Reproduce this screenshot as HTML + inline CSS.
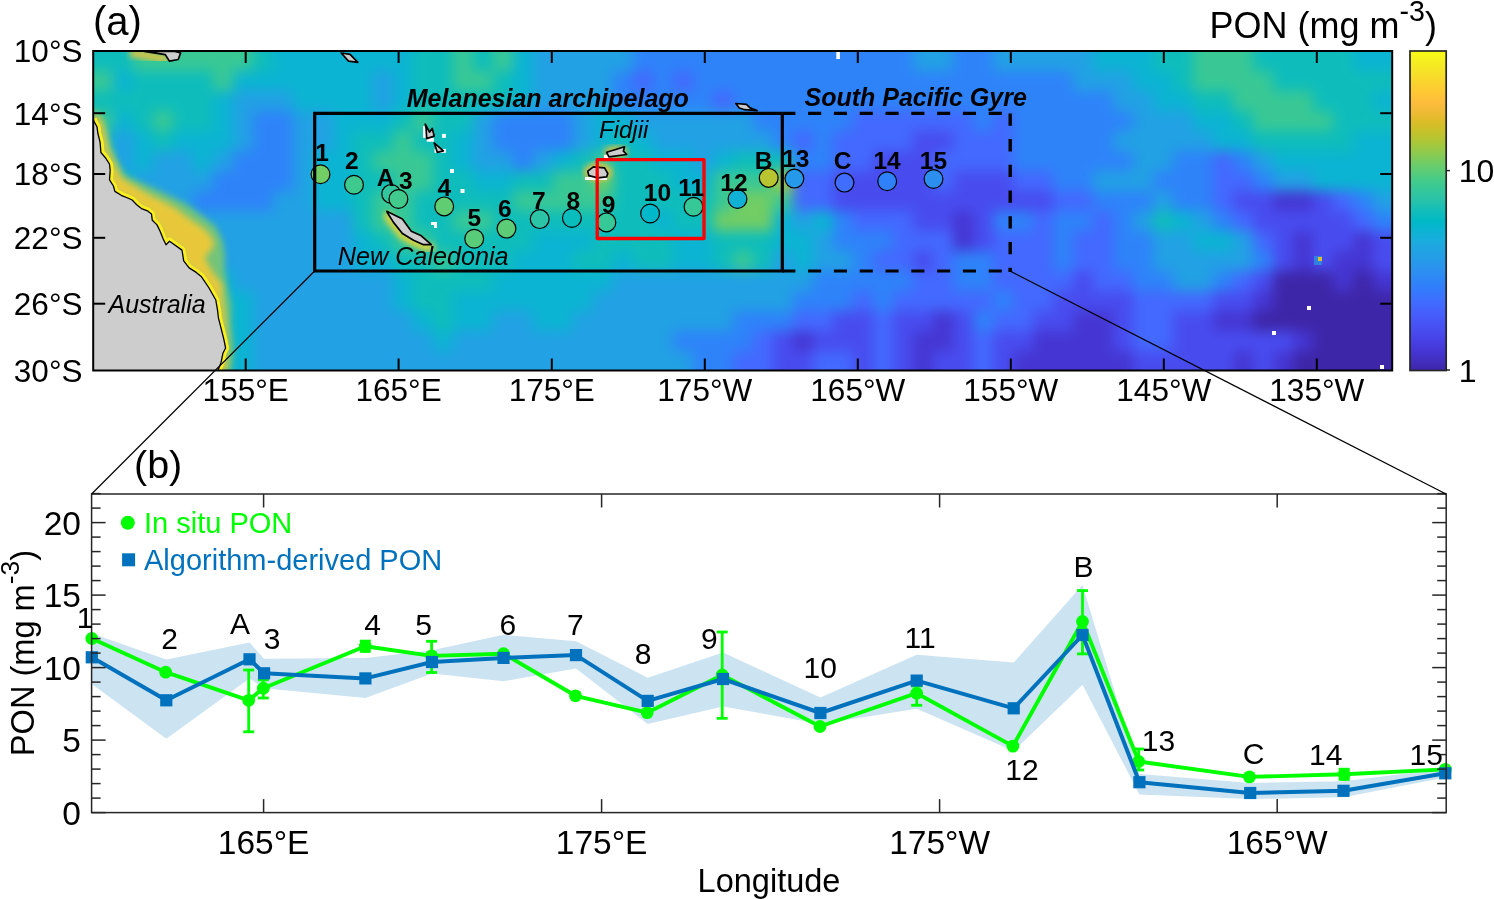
<!DOCTYPE html>
<html><head><meta charset="utf-8"><style>
html,body{margin:0;padding:0;background:#fff;width:1494px;height:899px;overflow:hidden}
svg{display:block;will-change:transform}
text{font-family:"Liberation Sans", sans-serif}
</style></head><body>
<svg width="1494" height="899" viewBox="0 0 1494 899">
<rect width="1494" height="899" fill="#fff"/>
<defs><clipPath id="mclip"><rect x="93.2" y="51.0" width="1299.0" height="319.5"/></clipPath><filter id="mblur" x="-2%" y="-10%" width="104%" height="120%" color-interpolation-filters="sRGB"><feGaussianBlur stdDeviation="6.5"/></filter><filter id="gblur" color-interpolation-filters="sRGB"><feGaussianBlur stdDeviation="3"/></filter></defs>
<g clip-path="url(#mclip)">
<g filter="url(#mblur)">
<rect x="53" y="11" width="80.5" height="20.5" fill="#0ebdbb"/>
<rect x="133" y="11" width="120.5" height="20.5" fill="#39c895"/>
<rect x="253" y="11" width="20.5" height="20.5" fill="#0ebdbb"/>
<rect x="273" y="11" width="140.5" height="20.5" fill="#0bb4d2"/>
<rect x="413" y="11" width="40.5" height="20.5" fill="#0ebdbb"/>
<rect x="453" y="11" width="20.5" height="20.5" fill="#39c895"/>
<rect x="473" y="11" width="20.5" height="20.5" fill="#0ebdbb"/>
<rect x="493" y="11" width="20.5" height="20.5" fill="#39c895"/>
<rect x="513" y="11" width="20.5" height="20.5" fill="#0bb4d2"/>
<rect x="533" y="11" width="100.5" height="20.5" fill="#22a1e4"/>
<rect x="633" y="11" width="280.5" height="20.5" fill="#2e83f9"/>
<rect x="913" y="11" width="40.5" height="20.5" fill="#22a1e4"/>
<rect x="953" y="11" width="40.5" height="20.5" fill="#2e83f9"/>
<rect x="993" y="11" width="100.5" height="20.5" fill="#22a1e4"/>
<rect x="1093" y="11" width="60.5" height="20.5" fill="#0bb4d2"/>
<rect x="1153" y="11" width="40.5" height="20.5" fill="#0ebdbb"/>
<rect x="1193" y="11" width="60.5" height="20.5" fill="#39c895"/>
<rect x="1253" y="11" width="100.5" height="20.5" fill="#0ebdbb"/>
<rect x="1353" y="11" width="80.5" height="20.5" fill="#0bb4d2"/>
<rect x="53" y="31" width="80.5" height="20.5" fill="#0ebdbb"/>
<rect x="133" y="31" width="120.5" height="20.5" fill="#39c895"/>
<rect x="253" y="31" width="20.5" height="20.5" fill="#0ebdbb"/>
<rect x="273" y="31" width="140.5" height="20.5" fill="#0bb4d2"/>
<rect x="413" y="31" width="40.5" height="20.5" fill="#0ebdbb"/>
<rect x="453" y="31" width="20.5" height="20.5" fill="#39c895"/>
<rect x="473" y="31" width="20.5" height="20.5" fill="#0ebdbb"/>
<rect x="493" y="31" width="20.5" height="20.5" fill="#39c895"/>
<rect x="513" y="31" width="20.5" height="20.5" fill="#0bb4d2"/>
<rect x="533" y="31" width="100.5" height="20.5" fill="#22a1e4"/>
<rect x="633" y="31" width="280.5" height="20.5" fill="#2e83f9"/>
<rect x="913" y="31" width="40.5" height="20.5" fill="#22a1e4"/>
<rect x="953" y="31" width="40.5" height="20.5" fill="#2e83f9"/>
<rect x="993" y="31" width="100.5" height="20.5" fill="#22a1e4"/>
<rect x="1093" y="31" width="60.5" height="20.5" fill="#0bb4d2"/>
<rect x="1153" y="31" width="40.5" height="20.5" fill="#0ebdbb"/>
<rect x="1193" y="31" width="60.5" height="20.5" fill="#39c895"/>
<rect x="1253" y="31" width="100.5" height="20.5" fill="#0ebdbb"/>
<rect x="1353" y="31" width="80.5" height="20.5" fill="#0bb4d2"/>
<rect x="53" y="51" width="80.5" height="20.5" fill="#0ebdbb"/>
<rect x="133" y="51" width="120.5" height="20.5" fill="#39c895"/>
<rect x="253" y="51" width="20.5" height="20.5" fill="#0ebdbb"/>
<rect x="273" y="51" width="140.5" height="20.5" fill="#0bb4d2"/>
<rect x="413" y="51" width="40.5" height="20.5" fill="#0ebdbb"/>
<rect x="453" y="51" width="20.5" height="20.5" fill="#39c895"/>
<rect x="473" y="51" width="20.5" height="20.5" fill="#0ebdbb"/>
<rect x="493" y="51" width="20.5" height="20.5" fill="#39c895"/>
<rect x="513" y="51" width="20.5" height="20.5" fill="#0bb4d2"/>
<rect x="533" y="51" width="100.5" height="20.5" fill="#22a1e4"/>
<rect x="633" y="51" width="280.5" height="20.5" fill="#2e83f9"/>
<rect x="913" y="51" width="40.5" height="20.5" fill="#22a1e4"/>
<rect x="953" y="51" width="40.5" height="20.5" fill="#2e83f9"/>
<rect x="993" y="51" width="100.5" height="20.5" fill="#22a1e4"/>
<rect x="1093" y="51" width="60.5" height="20.5" fill="#0bb4d2"/>
<rect x="1153" y="51" width="40.5" height="20.5" fill="#0ebdbb"/>
<rect x="1193" y="51" width="60.5" height="20.5" fill="#39c895"/>
<rect x="1253" y="51" width="100.5" height="20.5" fill="#0ebdbb"/>
<rect x="1353" y="51" width="80.5" height="20.5" fill="#0bb4d2"/>
<rect x="53" y="71" width="60.5" height="20.5" fill="#39c895"/>
<rect x="113" y="71" width="20.5" height="20.5" fill="#0bb4d2"/>
<rect x="133" y="71" width="80.5" height="20.5" fill="#0ebdbb"/>
<rect x="213" y="71" width="20.5" height="20.5" fill="#39c895"/>
<rect x="233" y="71" width="140.5" height="20.5" fill="#0bb4d2"/>
<rect x="373" y="71" width="20.5" height="20.5" fill="#22a1e4"/>
<rect x="393" y="71" width="20.5" height="20.5" fill="#0bb4d2"/>
<rect x="413" y="71" width="40.5" height="20.5" fill="#0ebdbb"/>
<rect x="453" y="71" width="40.5" height="20.5" fill="#39c895"/>
<rect x="493" y="71" width="20.5" height="20.5" fill="#0ebdbb"/>
<rect x="513" y="71" width="20.5" height="20.5" fill="#0bb4d2"/>
<rect x="533" y="71" width="80.5" height="20.5" fill="#22a1e4"/>
<rect x="613" y="71" width="20.5" height="20.5" fill="#2e83f9"/>
<rect x="633" y="71" width="20.5" height="20.5" fill="#4369fe"/>
<rect x="653" y="71" width="20.5" height="20.5" fill="#2e83f9"/>
<rect x="673" y="71" width="20.5" height="20.5" fill="#4369fe"/>
<rect x="693" y="71" width="380.5" height="20.5" fill="#2e83f9"/>
<rect x="1073" y="71" width="60.5" height="20.5" fill="#22a1e4"/>
<rect x="1133" y="71" width="40.5" height="20.5" fill="#0bb4d2"/>
<rect x="1173" y="71" width="20.5" height="20.5" fill="#0ebdbb"/>
<rect x="1193" y="71" width="80.5" height="20.5" fill="#39c895"/>
<rect x="1273" y="71" width="160.5" height="20.5" fill="#0ebdbb"/>
<rect x="53" y="91" width="160.5" height="20.5" fill="#0ebdbb"/>
<rect x="213" y="91" width="20.5" height="20.5" fill="#0bb4d2"/>
<rect x="233" y="91" width="60.5" height="20.5" fill="#22a1e4"/>
<rect x="293" y="91" width="80.5" height="20.5" fill="#0bb4d2"/>
<rect x="373" y="91" width="20.5" height="20.5" fill="#22a1e4"/>
<rect x="393" y="91" width="20.5" height="20.5" fill="#0bb4d2"/>
<rect x="413" y="91" width="100.5" height="20.5" fill="#0ebdbb"/>
<rect x="513" y="91" width="20.5" height="20.5" fill="#0bb4d2"/>
<rect x="533" y="91" width="80.5" height="20.5" fill="#22a1e4"/>
<rect x="613" y="91" width="100.5" height="20.5" fill="#2e83f9"/>
<rect x="713" y="91" width="20.5" height="20.5" fill="#4369fe"/>
<rect x="733" y="91" width="380.5" height="20.5" fill="#2e83f9"/>
<rect x="1113" y="91" width="40.5" height="20.5" fill="#22a1e4"/>
<rect x="1153" y="91" width="40.5" height="20.5" fill="#0bb4d2"/>
<rect x="1193" y="91" width="40.5" height="20.5" fill="#0ebdbb"/>
<rect x="1233" y="91" width="80.5" height="20.5" fill="#39c895"/>
<rect x="1313" y="91" width="60.5" height="20.5" fill="#0ebdbb"/>
<rect x="1373" y="91" width="60.5" height="20.5" fill="#0bb4d2"/>
<rect x="53" y="111" width="60.5" height="20.5" fill="#39c895"/>
<rect x="113" y="111" width="20.5" height="20.5" fill="#0bb4d2"/>
<rect x="133" y="111" width="20.5" height="20.5" fill="#0ebdbb"/>
<rect x="153" y="111" width="20.5" height="20.5" fill="#39c895"/>
<rect x="173" y="111" width="40.5" height="20.5" fill="#0ebdbb"/>
<rect x="213" y="111" width="20.5" height="20.5" fill="#0bb4d2"/>
<rect x="233" y="111" width="20.5" height="20.5" fill="#22a1e4"/>
<rect x="253" y="111" width="40.5" height="20.5" fill="#2e83f9"/>
<rect x="293" y="111" width="40.5" height="20.5" fill="#22a1e4"/>
<rect x="333" y="111" width="60.5" height="20.5" fill="#0bb4d2"/>
<rect x="393" y="111" width="20.5" height="20.5" fill="#0ebdbb"/>
<rect x="413" y="111" width="20.5" height="20.5" fill="#39c895"/>
<rect x="433" y="111" width="40.5" height="20.5" fill="#0ebdbb"/>
<rect x="473" y="111" width="20.5" height="20.5" fill="#22a1e4"/>
<rect x="493" y="111" width="80.5" height="20.5" fill="#2e83f9"/>
<rect x="573" y="111" width="20.5" height="20.5" fill="#22a1e4"/>
<rect x="593" y="111" width="40.5" height="20.5" fill="#0bb4d2"/>
<rect x="633" y="111" width="120.5" height="20.5" fill="#22a1e4"/>
<rect x="753" y="111" width="100.5" height="20.5" fill="#2e83f9"/>
<rect x="853" y="111" width="120.5" height="20.5" fill="#4369fe"/>
<rect x="973" y="111" width="20.5" height="20.5" fill="#2e83f9"/>
<rect x="993" y="111" width="20.5" height="20.5" fill="#4369fe"/>
<rect x="1013" y="111" width="120.5" height="20.5" fill="#2e83f9"/>
<rect x="1133" y="111" width="60.5" height="20.5" fill="#22a1e4"/>
<rect x="1193" y="111" width="40.5" height="20.5" fill="#0bb4d2"/>
<rect x="1233" y="111" width="20.5" height="20.5" fill="#0ebdbb"/>
<rect x="1253" y="111" width="80.5" height="20.5" fill="#39c895"/>
<rect x="1333" y="111" width="100.5" height="20.5" fill="#0ebdbb"/>
<rect x="53" y="131" width="60.5" height="20.5" fill="#0bb4d2"/>
<rect x="113" y="131" width="20.5" height="20.5" fill="#22a1e4"/>
<rect x="133" y="131" width="20.5" height="20.5" fill="#0bb4d2"/>
<rect x="153" y="131" width="20.5" height="20.5" fill="#0ebdbb"/>
<rect x="173" y="131" width="60.5" height="20.5" fill="#0bb4d2"/>
<rect x="233" y="131" width="20.5" height="20.5" fill="#22a1e4"/>
<rect x="253" y="131" width="40.5" height="20.5" fill="#2e83f9"/>
<rect x="293" y="131" width="40.5" height="20.5" fill="#22a1e4"/>
<rect x="333" y="131" width="20.5" height="20.5" fill="#0bb4d2"/>
<rect x="353" y="131" width="40.5" height="20.5" fill="#0ebdbb"/>
<rect x="393" y="131" width="20.5" height="20.5" fill="#39c895"/>
<rect x="413" y="131" width="40.5" height="20.5" fill="#0ebdbb"/>
<rect x="453" y="131" width="20.5" height="20.5" fill="#0bb4d2"/>
<rect x="473" y="131" width="20.5" height="20.5" fill="#22a1e4"/>
<rect x="493" y="131" width="80.5" height="20.5" fill="#2e83f9"/>
<rect x="573" y="131" width="20.5" height="20.5" fill="#22a1e4"/>
<rect x="593" y="131" width="20.5" height="20.5" fill="#0bb4d2"/>
<rect x="613" y="131" width="20.5" height="20.5" fill="#0ebdbb"/>
<rect x="633" y="131" width="20.5" height="20.5" fill="#0bb4d2"/>
<rect x="653" y="131" width="120.5" height="20.5" fill="#22a1e4"/>
<rect x="773" y="131" width="20.5" height="20.5" fill="#2e83f9"/>
<rect x="793" y="131" width="20.5" height="20.5" fill="#4369fe"/>
<rect x="813" y="131" width="20.5" height="20.5" fill="#2e83f9"/>
<rect x="833" y="131" width="80.5" height="20.5" fill="#4369fe"/>
<rect x="913" y="131" width="40.5" height="20.5" fill="#484cef"/>
<rect x="953" y="131" width="60.5" height="20.5" fill="#4369fe"/>
<rect x="1013" y="131" width="100.5" height="20.5" fill="#2e83f9"/>
<rect x="1113" y="131" width="100.5" height="20.5" fill="#22a1e4"/>
<rect x="1213" y="131" width="40.5" height="20.5" fill="#0bb4d2"/>
<rect x="1253" y="131" width="100.5" height="20.5" fill="#0ebdbb"/>
<rect x="1353" y="131" width="80.5" height="20.5" fill="#0bb4d2"/>
<rect x="53" y="151" width="60.5" height="20.5" fill="#0bb4d2"/>
<rect x="113" y="151" width="20.5" height="20.5" fill="#22a1e4"/>
<rect x="133" y="151" width="20.5" height="20.5" fill="#0bb4d2"/>
<rect x="153" y="151" width="40.5" height="20.5" fill="#22a1e4"/>
<rect x="193" y="151" width="20.5" height="20.5" fill="#0bb4d2"/>
<rect x="213" y="151" width="20.5" height="20.5" fill="#22a1e4"/>
<rect x="233" y="151" width="60.5" height="20.5" fill="#2e83f9"/>
<rect x="293" y="151" width="20.5" height="20.5" fill="#22a1e4"/>
<rect x="313" y="151" width="40.5" height="20.5" fill="#0bb4d2"/>
<rect x="353" y="151" width="20.5" height="20.5" fill="#0ebdbb"/>
<rect x="373" y="151" width="60.5" height="20.5" fill="#39c895"/>
<rect x="433" y="151" width="20.5" height="20.5" fill="#0ebdbb"/>
<rect x="453" y="151" width="20.5" height="20.5" fill="#0bb4d2"/>
<rect x="473" y="151" width="40.5" height="20.5" fill="#22a1e4"/>
<rect x="513" y="151" width="20.5" height="20.5" fill="#2e83f9"/>
<rect x="533" y="151" width="20.5" height="20.5" fill="#22a1e4"/>
<rect x="553" y="151" width="20.5" height="20.5" fill="#0bb4d2"/>
<rect x="573" y="151" width="20.5" height="20.5" fill="#0ebdbb"/>
<rect x="593" y="151" width="20.5" height="20.5" fill="#39c895"/>
<rect x="613" y="151" width="40.5" height="20.5" fill="#0ebdbb"/>
<rect x="653" y="151" width="40.5" height="20.5" fill="#0bb4d2"/>
<rect x="693" y="151" width="20.5" height="20.5" fill="#22a1e4"/>
<rect x="713" y="151" width="20.5" height="20.5" fill="#0bb4d2"/>
<rect x="733" y="151" width="60.5" height="20.5" fill="#0ebdbb"/>
<rect x="793" y="151" width="40.5" height="20.5" fill="#2e83f9"/>
<rect x="833" y="151" width="40.5" height="20.5" fill="#4369fe"/>
<rect x="873" y="151" width="60.5" height="20.5" fill="#484cef"/>
<rect x="933" y="151" width="80.5" height="20.5" fill="#4369fe"/>
<rect x="1013" y="151" width="120.5" height="20.5" fill="#2e83f9"/>
<rect x="1133" y="151" width="40.5" height="20.5" fill="#22a1e4"/>
<rect x="1173" y="151" width="40.5" height="20.5" fill="#2e83f9"/>
<rect x="1213" y="151" width="20.5" height="20.5" fill="#4369fe"/>
<rect x="1233" y="151" width="20.5" height="20.5" fill="#2e83f9"/>
<rect x="1253" y="151" width="20.5" height="20.5" fill="#22a1e4"/>
<rect x="1273" y="151" width="160.5" height="20.5" fill="#0bb4d2"/>
<rect x="53" y="171" width="80.5" height="20.5" fill="#0bb4d2"/>
<rect x="133" y="171" width="80.5" height="20.5" fill="#22a1e4"/>
<rect x="213" y="171" width="80.5" height="20.5" fill="#2e83f9"/>
<rect x="293" y="171" width="20.5" height="20.5" fill="#22a1e4"/>
<rect x="313" y="171" width="40.5" height="20.5" fill="#0bb4d2"/>
<rect x="353" y="171" width="40.5" height="20.5" fill="#0ebdbb"/>
<rect x="393" y="171" width="40.5" height="20.5" fill="#39c895"/>
<rect x="433" y="171" width="40.5" height="20.5" fill="#0ebdbb"/>
<rect x="473" y="171" width="40.5" height="20.5" fill="#0bb4d2"/>
<rect x="513" y="171" width="40.5" height="20.5" fill="#0ebdbb"/>
<rect x="553" y="171" width="40.5" height="20.5" fill="#39c895"/>
<rect x="593" y="171" width="20.5" height="20.5" fill="#71cd64"/>
<rect x="613" y="171" width="60.5" height="20.5" fill="#0ebdbb"/>
<rect x="673" y="171" width="40.5" height="20.5" fill="#0bb4d2"/>
<rect x="713" y="171" width="60.5" height="20.5" fill="#39c895"/>
<rect x="773" y="171" width="20.5" height="20.5" fill="#b0c636"/>
<rect x="793" y="171" width="40.5" height="20.5" fill="#4369fe"/>
<rect x="833" y="171" width="100.5" height="20.5" fill="#484cef"/>
<rect x="933" y="171" width="20.5" height="20.5" fill="#4369fe"/>
<rect x="953" y="171" width="60.5" height="20.5" fill="#484cef"/>
<rect x="1013" y="171" width="40.5" height="20.5" fill="#4369fe"/>
<rect x="1053" y="171" width="40.5" height="20.5" fill="#2e83f9"/>
<rect x="1093" y="171" width="60.5" height="20.5" fill="#22a1e4"/>
<rect x="1153" y="171" width="60.5" height="20.5" fill="#2e83f9"/>
<rect x="1213" y="171" width="40.5" height="20.5" fill="#4369fe"/>
<rect x="1253" y="171" width="20.5" height="20.5" fill="#2e83f9"/>
<rect x="1273" y="171" width="40.5" height="20.5" fill="#22a1e4"/>
<rect x="1313" y="171" width="120.5" height="20.5" fill="#0bb4d2"/>
<rect x="53" y="191" width="100.5" height="20.5" fill="#0bb4d2"/>
<rect x="153" y="191" width="40.5" height="20.5" fill="#22a1e4"/>
<rect x="193" y="191" width="80.5" height="20.5" fill="#2e83f9"/>
<rect x="273" y="191" width="40.5" height="20.5" fill="#22a1e4"/>
<rect x="313" y="191" width="40.5" height="20.5" fill="#0bb4d2"/>
<rect x="353" y="191" width="20.5" height="20.5" fill="#0ebdbb"/>
<rect x="373" y="191" width="40.5" height="20.5" fill="#39c895"/>
<rect x="413" y="191" width="100.5" height="20.5" fill="#0ebdbb"/>
<rect x="513" y="191" width="100.5" height="20.5" fill="#39c895"/>
<rect x="613" y="191" width="100.5" height="20.5" fill="#0ebdbb"/>
<rect x="713" y="191" width="20.5" height="20.5" fill="#39c895"/>
<rect x="733" y="191" width="40.5" height="20.5" fill="#71cd64"/>
<rect x="773" y="191" width="20.5" height="20.5" fill="#39c895"/>
<rect x="793" y="191" width="40.5" height="20.5" fill="#4369fe"/>
<rect x="833" y="191" width="220.5" height="20.5" fill="#484cef"/>
<rect x="1053" y="191" width="40.5" height="20.5" fill="#4369fe"/>
<rect x="1093" y="191" width="60.5" height="20.5" fill="#2e83f9"/>
<rect x="1153" y="191" width="20.5" height="20.5" fill="#22a1e4"/>
<rect x="1173" y="191" width="40.5" height="20.5" fill="#2e83f9"/>
<rect x="1213" y="191" width="20.5" height="20.5" fill="#4369fe"/>
<rect x="1233" y="191" width="40.5" height="20.5" fill="#484cef"/>
<rect x="1273" y="191" width="40.5" height="20.5" fill="#4536d3"/>
<rect x="1313" y="191" width="20.5" height="20.5" fill="#484cef"/>
<rect x="1333" y="191" width="20.5" height="20.5" fill="#4369fe"/>
<rect x="1353" y="191" width="20.5" height="20.5" fill="#2e83f9"/>
<rect x="1373" y="191" width="60.5" height="20.5" fill="#22a1e4"/>
<rect x="53" y="211" width="100.5" height="20.5" fill="#0bb4d2"/>
<rect x="153" y="211" width="20.5" height="20.5" fill="#0ebdbb"/>
<rect x="173" y="211" width="20.5" height="20.5" fill="#0bb4d2"/>
<rect x="193" y="211" width="160.5" height="20.5" fill="#22a1e4"/>
<rect x="353" y="211" width="20.5" height="20.5" fill="#0ebdbb"/>
<rect x="373" y="211" width="40.5" height="20.5" fill="#39c895"/>
<rect x="413" y="211" width="40.5" height="20.5" fill="#0ebdbb"/>
<rect x="453" y="211" width="40.5" height="20.5" fill="#39c895"/>
<rect x="493" y="211" width="160.5" height="20.5" fill="#0ebdbb"/>
<rect x="653" y="211" width="20.5" height="20.5" fill="#0bb4d2"/>
<rect x="673" y="211" width="40.5" height="20.5" fill="#0ebdbb"/>
<rect x="713" y="211" width="60.5" height="20.5" fill="#71cd64"/>
<rect x="773" y="211" width="20.5" height="20.5" fill="#0bb4d2"/>
<rect x="793" y="211" width="20.5" height="20.5" fill="#22a1e4"/>
<rect x="813" y="211" width="20.5" height="20.5" fill="#0bb4d2"/>
<rect x="833" y="211" width="20.5" height="20.5" fill="#2e83f9"/>
<rect x="853" y="211" width="60.5" height="20.5" fill="#4369fe"/>
<rect x="913" y="211" width="40.5" height="20.5" fill="#484cef"/>
<rect x="953" y="211" width="20.5" height="20.5" fill="#4536d3"/>
<rect x="973" y="211" width="20.5" height="20.5" fill="#484cef"/>
<rect x="993" y="211" width="40.5" height="20.5" fill="#2e83f9"/>
<rect x="1033" y="211" width="20.5" height="20.5" fill="#4369fe"/>
<rect x="1053" y="211" width="40.5" height="20.5" fill="#2e83f9"/>
<rect x="1093" y="211" width="20.5" height="20.5" fill="#4369fe"/>
<rect x="1113" y="211" width="20.5" height="20.5" fill="#2e83f9"/>
<rect x="1133" y="211" width="20.5" height="20.5" fill="#22a1e4"/>
<rect x="1153" y="211" width="20.5" height="20.5" fill="#0ebdbb"/>
<rect x="1173" y="211" width="20.5" height="20.5" fill="#0bb4d2"/>
<rect x="1193" y="211" width="20.5" height="20.5" fill="#22a1e4"/>
<rect x="1213" y="211" width="20.5" height="20.5" fill="#2e83f9"/>
<rect x="1233" y="211" width="20.5" height="20.5" fill="#4369fe"/>
<rect x="1253" y="211" width="100.5" height="20.5" fill="#484cef"/>
<rect x="1353" y="211" width="20.5" height="20.5" fill="#4369fe"/>
<rect x="1373" y="211" width="60.5" height="20.5" fill="#2e83f9"/>
<rect x="53" y="231" width="160.5" height="20.5" fill="#0bb4d2"/>
<rect x="213" y="231" width="140.5" height="20.5" fill="#22a1e4"/>
<rect x="353" y="231" width="20.5" height="20.5" fill="#0bb4d2"/>
<rect x="373" y="231" width="20.5" height="20.5" fill="#0ebdbb"/>
<rect x="393" y="231" width="40.5" height="20.5" fill="#39c895"/>
<rect x="433" y="231" width="100.5" height="20.5" fill="#0ebdbb"/>
<rect x="533" y="231" width="60.5" height="20.5" fill="#0bb4d2"/>
<rect x="593" y="231" width="80.5" height="20.5" fill="#0ebdbb"/>
<rect x="673" y="231" width="40.5" height="20.5" fill="#0bb4d2"/>
<rect x="713" y="231" width="60.5" height="20.5" fill="#0ebdbb"/>
<rect x="773" y="231" width="40.5" height="20.5" fill="#0bb4d2"/>
<rect x="813" y="231" width="20.5" height="20.5" fill="#22a1e4"/>
<rect x="833" y="231" width="60.5" height="20.5" fill="#2e83f9"/>
<rect x="893" y="231" width="60.5" height="20.5" fill="#4369fe"/>
<rect x="953" y="231" width="20.5" height="20.5" fill="#4536d3"/>
<rect x="973" y="231" width="20.5" height="20.5" fill="#484cef"/>
<rect x="993" y="231" width="60.5" height="20.5" fill="#4369fe"/>
<rect x="1053" y="231" width="20.5" height="20.5" fill="#2e83f9"/>
<rect x="1073" y="231" width="40.5" height="20.5" fill="#4369fe"/>
<rect x="1113" y="231" width="40.5" height="20.5" fill="#2e83f9"/>
<rect x="1153" y="231" width="40.5" height="20.5" fill="#22a1e4"/>
<rect x="1193" y="231" width="40.5" height="20.5" fill="#0bb4d2"/>
<rect x="1233" y="231" width="20.5" height="20.5" fill="#22a1e4"/>
<rect x="1253" y="231" width="20.5" height="20.5" fill="#4369fe"/>
<rect x="1273" y="231" width="20.5" height="20.5" fill="#484cef"/>
<rect x="1293" y="231" width="20.5" height="20.5" fill="#4536d3"/>
<rect x="1313" y="231" width="40.5" height="20.5" fill="#484cef"/>
<rect x="1353" y="231" width="20.5" height="20.5" fill="#4536d3"/>
<rect x="1373" y="231" width="60.5" height="20.5" fill="#484cef"/>
<rect x="53" y="251" width="160.5" height="20.5" fill="#0bb4d2"/>
<rect x="213" y="251" width="140.5" height="20.5" fill="#22a1e4"/>
<rect x="353" y="251" width="40.5" height="20.5" fill="#0bb4d2"/>
<rect x="393" y="251" width="40.5" height="20.5" fill="#0ebdbb"/>
<rect x="433" y="251" width="20.5" height="20.5" fill="#39c895"/>
<rect x="453" y="251" width="60.5" height="20.5" fill="#0ebdbb"/>
<rect x="513" y="251" width="60.5" height="20.5" fill="#0bb4d2"/>
<rect x="573" y="251" width="40.5" height="20.5" fill="#0ebdbb"/>
<rect x="613" y="251" width="20.5" height="20.5" fill="#0bb4d2"/>
<rect x="633" y="251" width="40.5" height="20.5" fill="#0ebdbb"/>
<rect x="673" y="251" width="40.5" height="20.5" fill="#0bb4d2"/>
<rect x="713" y="251" width="20.5" height="20.5" fill="#0ebdbb"/>
<rect x="733" y="251" width="20.5" height="20.5" fill="#39c895"/>
<rect x="753" y="251" width="20.5" height="20.5" fill="#0ebdbb"/>
<rect x="773" y="251" width="20.5" height="20.5" fill="#22a1e4"/>
<rect x="793" y="251" width="20.5" height="20.5" fill="#0bb4d2"/>
<rect x="813" y="251" width="40.5" height="20.5" fill="#22a1e4"/>
<rect x="853" y="251" width="20.5" height="20.5" fill="#2e83f9"/>
<rect x="873" y="251" width="40.5" height="20.5" fill="#4369fe"/>
<rect x="913" y="251" width="20.5" height="20.5" fill="#484cef"/>
<rect x="933" y="251" width="20.5" height="20.5" fill="#4369fe"/>
<rect x="953" y="251" width="40.5" height="20.5" fill="#2e83f9"/>
<rect x="993" y="251" width="60.5" height="20.5" fill="#4369fe"/>
<rect x="1053" y="251" width="20.5" height="20.5" fill="#2e83f9"/>
<rect x="1073" y="251" width="40.5" height="20.5" fill="#4369fe"/>
<rect x="1113" y="251" width="40.5" height="20.5" fill="#2e83f9"/>
<rect x="1153" y="251" width="100.5" height="20.5" fill="#22a1e4"/>
<rect x="1253" y="251" width="20.5" height="20.5" fill="#2e83f9"/>
<rect x="1273" y="251" width="20.5" height="20.5" fill="#484cef"/>
<rect x="1293" y="251" width="20.5" height="20.5" fill="#4536d3"/>
<rect x="1313" y="251" width="20.5" height="20.5" fill="#484cef"/>
<rect x="1333" y="251" width="40.5" height="20.5" fill="#4536d3"/>
<rect x="1373" y="251" width="60.5" height="20.5" fill="#484cef"/>
<rect x="53" y="271" width="180.5" height="20.5" fill="#0bb4d2"/>
<rect x="233" y="271" width="160.5" height="20.5" fill="#22a1e4"/>
<rect x="393" y="271" width="20.5" height="20.5" fill="#0bb4d2"/>
<rect x="413" y="271" width="80.5" height="20.5" fill="#0ebdbb"/>
<rect x="493" y="271" width="120.5" height="20.5" fill="#0bb4d2"/>
<rect x="613" y="271" width="200.5" height="20.5" fill="#22a1e4"/>
<rect x="813" y="271" width="100.5" height="20.5" fill="#2e83f9"/>
<rect x="913" y="271" width="40.5" height="20.5" fill="#4369fe"/>
<rect x="953" y="271" width="40.5" height="20.5" fill="#2e83f9"/>
<rect x="993" y="271" width="80.5" height="20.5" fill="#4369fe"/>
<rect x="1073" y="271" width="20.5" height="20.5" fill="#484cef"/>
<rect x="1093" y="271" width="40.5" height="20.5" fill="#4369fe"/>
<rect x="1133" y="271" width="40.5" height="20.5" fill="#2e83f9"/>
<rect x="1173" y="271" width="40.5" height="20.5" fill="#22a1e4"/>
<rect x="1213" y="271" width="20.5" height="20.5" fill="#2e83f9"/>
<rect x="1233" y="271" width="20.5" height="20.5" fill="#4369fe"/>
<rect x="1253" y="271" width="20.5" height="20.5" fill="#484cef"/>
<rect x="1273" y="271" width="60.5" height="20.5" fill="#3e26a8"/>
<rect x="1333" y="271" width="20.5" height="20.5" fill="#4536d3"/>
<rect x="1353" y="271" width="20.5" height="20.5" fill="#3e26a8"/>
<rect x="1373" y="271" width="60.5" height="20.5" fill="#4536d3"/>
<rect x="53" y="291" width="200.5" height="20.5" fill="#0bb4d2"/>
<rect x="253" y="291" width="140.5" height="20.5" fill="#22a1e4"/>
<rect x="393" y="291" width="20.5" height="20.5" fill="#0bb4d2"/>
<rect x="413" y="291" width="40.5" height="20.5" fill="#0ebdbb"/>
<rect x="453" y="291" width="140.5" height="20.5" fill="#0bb4d2"/>
<rect x="593" y="291" width="200.5" height="20.5" fill="#22a1e4"/>
<rect x="793" y="291" width="60.5" height="20.5" fill="#2e83f9"/>
<rect x="853" y="291" width="20.5" height="20.5" fill="#4369fe"/>
<rect x="873" y="291" width="20.5" height="20.5" fill="#2e83f9"/>
<rect x="893" y="291" width="100.5" height="20.5" fill="#4369fe"/>
<rect x="993" y="291" width="20.5" height="20.5" fill="#2e83f9"/>
<rect x="1013" y="291" width="40.5" height="20.5" fill="#4369fe"/>
<rect x="1053" y="291" width="80.5" height="20.5" fill="#484cef"/>
<rect x="1133" y="291" width="80.5" height="20.5" fill="#4369fe"/>
<rect x="1213" y="291" width="40.5" height="20.5" fill="#484cef"/>
<rect x="1253" y="291" width="20.5" height="20.5" fill="#4536d3"/>
<rect x="1273" y="291" width="160.5" height="20.5" fill="#3e26a8"/>
<rect x="53" y="311" width="200.5" height="20.5" fill="#0bb4d2"/>
<rect x="253" y="311" width="160.5" height="20.5" fill="#22a1e4"/>
<rect x="413" y="311" width="20.5" height="20.5" fill="#0bb4d2"/>
<rect x="433" y="311" width="20.5" height="20.5" fill="#0ebdbb"/>
<rect x="453" y="311" width="40.5" height="20.5" fill="#0bb4d2"/>
<rect x="493" y="311" width="40.5" height="20.5" fill="#22a1e4"/>
<rect x="533" y="311" width="40.5" height="20.5" fill="#0bb4d2"/>
<rect x="573" y="311" width="160.5" height="20.5" fill="#22a1e4"/>
<rect x="733" y="311" width="60.5" height="20.5" fill="#2e83f9"/>
<rect x="793" y="311" width="40.5" height="20.5" fill="#4369fe"/>
<rect x="833" y="311" width="40.5" height="20.5" fill="#484cef"/>
<rect x="873" y="311" width="20.5" height="20.5" fill="#4369fe"/>
<rect x="893" y="311" width="40.5" height="20.5" fill="#484cef"/>
<rect x="933" y="311" width="20.5" height="20.5" fill="#4536d3"/>
<rect x="953" y="311" width="20.5" height="20.5" fill="#484cef"/>
<rect x="973" y="311" width="20.5" height="20.5" fill="#2e83f9"/>
<rect x="993" y="311" width="40.5" height="20.5" fill="#4369fe"/>
<rect x="1033" y="311" width="40.5" height="20.5" fill="#484cef"/>
<rect x="1073" y="311" width="40.5" height="20.5" fill="#4536d3"/>
<rect x="1113" y="311" width="20.5" height="20.5" fill="#484cef"/>
<rect x="1133" y="311" width="40.5" height="20.5" fill="#4369fe"/>
<rect x="1173" y="311" width="40.5" height="20.5" fill="#484cef"/>
<rect x="1213" y="311" width="40.5" height="20.5" fill="#4536d3"/>
<rect x="1253" y="311" width="180.5" height="20.5" fill="#3e26a8"/>
<rect x="53" y="331" width="200.5" height="20.5" fill="#0bb4d2"/>
<rect x="253" y="331" width="180.5" height="20.5" fill="#22a1e4"/>
<rect x="433" y="331" width="20.5" height="20.5" fill="#0bb4d2"/>
<rect x="453" y="331" width="220.5" height="20.5" fill="#22a1e4"/>
<rect x="673" y="331" width="80.5" height="20.5" fill="#2e83f9"/>
<rect x="753" y="331" width="20.5" height="20.5" fill="#4369fe"/>
<rect x="773" y="331" width="20.5" height="20.5" fill="#484cef"/>
<rect x="793" y="331" width="20.5" height="20.5" fill="#4536d3"/>
<rect x="813" y="331" width="60.5" height="20.5" fill="#484cef"/>
<rect x="873" y="331" width="20.5" height="20.5" fill="#4369fe"/>
<rect x="893" y="331" width="20.5" height="20.5" fill="#484cef"/>
<rect x="913" y="331" width="40.5" height="20.5" fill="#4536d3"/>
<rect x="953" y="331" width="20.5" height="20.5" fill="#484cef"/>
<rect x="973" y="331" width="20.5" height="20.5" fill="#4369fe"/>
<rect x="993" y="331" width="40.5" height="20.5" fill="#484cef"/>
<rect x="1033" y="331" width="80.5" height="20.5" fill="#4536d3"/>
<rect x="1113" y="331" width="20.5" height="20.5" fill="#484cef"/>
<rect x="1133" y="331" width="40.5" height="20.5" fill="#4369fe"/>
<rect x="1173" y="331" width="120.5" height="20.5" fill="#484cef"/>
<rect x="1293" y="331" width="20.5" height="20.5" fill="#4536d3"/>
<rect x="1313" y="331" width="120.5" height="20.5" fill="#3e26a8"/>
<rect x="53" y="351" width="200.5" height="20.5" fill="#0bb4d2"/>
<rect x="253" y="351" width="440.5" height="20.5" fill="#22a1e4"/>
<rect x="693" y="351" width="40.5" height="20.5" fill="#2e83f9"/>
<rect x="733" y="351" width="40.5" height="20.5" fill="#4369fe"/>
<rect x="773" y="351" width="40.5" height="20.5" fill="#484cef"/>
<rect x="813" y="351" width="40.5" height="20.5" fill="#4369fe"/>
<rect x="853" y="351" width="20.5" height="20.5" fill="#484cef"/>
<rect x="873" y="351" width="20.5" height="20.5" fill="#4369fe"/>
<rect x="893" y="351" width="20.5" height="20.5" fill="#484cef"/>
<rect x="913" y="351" width="20.5" height="20.5" fill="#4536d3"/>
<rect x="933" y="351" width="40.5" height="20.5" fill="#484cef"/>
<rect x="973" y="351" width="20.5" height="20.5" fill="#4369fe"/>
<rect x="993" y="351" width="20.5" height="20.5" fill="#484cef"/>
<rect x="1013" y="351" width="120.5" height="20.5" fill="#4536d3"/>
<rect x="1133" y="351" width="100.5" height="20.5" fill="#484cef"/>
<rect x="1233" y="351" width="20.5" height="20.5" fill="#4536d3"/>
<rect x="1253" y="351" width="20.5" height="20.5" fill="#484cef"/>
<rect x="1273" y="351" width="20.5" height="20.5" fill="#4536d3"/>
<rect x="1293" y="351" width="140.5" height="20.5" fill="#3e26a8"/>
<rect x="53" y="371" width="200.5" height="20.5" fill="#0bb4d2"/>
<rect x="253" y="371" width="440.5" height="20.5" fill="#22a1e4"/>
<rect x="693" y="371" width="40.5" height="20.5" fill="#2e83f9"/>
<rect x="733" y="371" width="40.5" height="20.5" fill="#4369fe"/>
<rect x="773" y="371" width="40.5" height="20.5" fill="#484cef"/>
<rect x="813" y="371" width="40.5" height="20.5" fill="#4369fe"/>
<rect x="853" y="371" width="20.5" height="20.5" fill="#484cef"/>
<rect x="873" y="371" width="20.5" height="20.5" fill="#4369fe"/>
<rect x="893" y="371" width="20.5" height="20.5" fill="#484cef"/>
<rect x="913" y="371" width="20.5" height="20.5" fill="#4536d3"/>
<rect x="933" y="371" width="40.5" height="20.5" fill="#484cef"/>
<rect x="973" y="371" width="20.5" height="20.5" fill="#4369fe"/>
<rect x="993" y="371" width="20.5" height="20.5" fill="#484cef"/>
<rect x="1013" y="371" width="120.5" height="20.5" fill="#4536d3"/>
<rect x="1133" y="371" width="100.5" height="20.5" fill="#484cef"/>
<rect x="1233" y="371" width="20.5" height="20.5" fill="#4536d3"/>
<rect x="1253" y="371" width="20.5" height="20.5" fill="#484cef"/>
<rect x="1273" y="371" width="20.5" height="20.5" fill="#4536d3"/>
<rect x="1293" y="371" width="140.5" height="20.5" fill="#3e26a8"/>
<rect x="53" y="391" width="200.5" height="20.5" fill="#0bb4d2"/>
<rect x="253" y="391" width="440.5" height="20.5" fill="#22a1e4"/>
<rect x="693" y="391" width="40.5" height="20.5" fill="#2e83f9"/>
<rect x="733" y="391" width="40.5" height="20.5" fill="#4369fe"/>
<rect x="773" y="391" width="40.5" height="20.5" fill="#484cef"/>
<rect x="813" y="391" width="40.5" height="20.5" fill="#4369fe"/>
<rect x="853" y="391" width="20.5" height="20.5" fill="#484cef"/>
<rect x="873" y="391" width="20.5" height="20.5" fill="#4369fe"/>
<rect x="893" y="391" width="20.5" height="20.5" fill="#484cef"/>
<rect x="913" y="391" width="20.5" height="20.5" fill="#4536d3"/>
<rect x="933" y="391" width="40.5" height="20.5" fill="#484cef"/>
<rect x="973" y="391" width="20.5" height="20.5" fill="#4369fe"/>
<rect x="993" y="391" width="20.5" height="20.5" fill="#484cef"/>
<rect x="1013" y="391" width="120.5" height="20.5" fill="#4536d3"/>
<rect x="1133" y="391" width="100.5" height="20.5" fill="#484cef"/>
<rect x="1233" y="391" width="20.5" height="20.5" fill="#4536d3"/>
<rect x="1253" y="391" width="20.5" height="20.5" fill="#484cef"/>
<rect x="1273" y="391" width="20.5" height="20.5" fill="#4536d3"/>
<rect x="1293" y="391" width="140.5" height="20.5" fill="#3e26a8"/>
</g>
<polygon points="93.2,118.5 93.9,121.4 97.0,126.8 97.8,133.0 100.1,142.4 100.9,152.5 105.6,158.0 109.5,164.2 110.2,170.4 109.5,179.8 113.4,186.0 114.9,191.4 121.2,195.3 128.9,198.5 132.1,200.0 136.7,204.7 141.4,208.6 147.6,210.9 151.5,214.0 152.3,220.3 157.0,224.9 160.1,231.2 163.2,239.0 166.0,244.8 169.5,241.2 182.0,250.1 183.7,260.8 189.1,267.9 196.2,272.4 201.5,276.8 208.7,287.5 215.8,300.0 217.6,310.6 218.4,317.8 221.1,328.4 223.8,339.1 225.6,348.0 222.9,353.3 221.1,362.2 217.6,372.0 231.2,372.0 233.5,346.8 231.2,324.6 231.2,304.6 226.8,284.5 224.6,269.0 224.6,253.4 222.3,240.0 215.7,226.7 204.6,217.8 186.8,204.5 164.5,193.3 135.6,180.0 125.0,175.0 117.0,160.0 111.0,145.0 107.0,127.0 101.0,116.0 93.2,108.0" fill="#74c47a" filter="url(#gblur)"/>
<polygon points="93.2,118.5 93.9,121.4 97.0,126.8 97.8,133.0 100.1,142.4 100.9,152.5 105.6,158.0 109.5,164.2 110.2,170.4 109.5,179.8 113.4,186.0 114.9,191.4 121.2,195.3 128.9,198.5 132.1,200.0 136.7,204.7 141.4,208.6 147.6,210.9 151.5,214.0 152.3,220.3 157.0,224.9 160.1,231.2 163.2,239.0 166.0,244.8 169.5,241.2 182.0,250.1 183.7,260.8 189.1,267.9 196.2,272.4 201.5,276.8 208.7,287.5 215.8,300.0 217.6,310.6 218.4,317.8 221.1,328.4 223.8,339.1 225.6,348.0 222.9,353.3 221.1,362.2 217.6,372.0 225.7,372.0 227.9,349.0 226.8,335.7 224.6,313.5 222.3,295.7 222.3,284.5 213.5,273.4 204.6,257.8 213.5,246.7 213.5,240.0 204.6,228.9 191.2,220.0 173.4,206.7 146.7,193.3 124.5,180.0 120.0,176.0 114.0,162.0 108.0,150.0 105.0,135.0 101.0,120.0 93.2,113.0" fill="#e8c83a" filter="url(#gblur)"/>
<polyline points="93.2,118.5 93.9,121.4 97.0,126.8 97.8,133.0 100.1,142.4 100.9,152.5 105.6,158.0 109.5,164.2 110.2,170.4 109.5,179.8 113.4,186.0 114.9,191.4 121.2,195.3 128.9,198.5 132.1,200.0 136.7,204.7 141.4,208.6 147.6,210.9 151.5,214.0 152.3,220.3 157.0,224.9 160.1,231.2 163.2,239.0 166.0,244.8 169.5,241.2 182.0,250.1 183.7,260.8 189.1,267.9 196.2,272.4 201.5,276.8 208.7,287.5 215.8,300.0 217.6,310.6 218.4,317.8 221.1,328.4 223.8,339.1 225.6,348.0 222.9,353.3 221.1,362.2 217.6,371.5" fill="none" stroke="#f9ee20" stroke-width="7" stroke-linejoin="round"/>
<polyline points="130,53 150,56 168,60" fill="none" stroke="#f2c33a" stroke-width="7" filter="url(#gblur)"/>
<polyline points="386.0,213.0 393.0,224.0 402.0,235.0 413.0,242.0 425.0,247.0 434.0,248.0" fill="none" stroke="#f7d530" stroke-width="7" stroke-linejoin="round" filter="url(#gblur)"/>
<ellipse cx="598" cy="172" rx="14" ry="9" fill="#e8c040" filter="url(#gblur)"/>
<ellipse cx="616" cy="152" rx="12" ry="6" fill="#d8c040" filter="url(#gblur)"/>
<rect x="1314" y="256" width="8" height="9" fill="#2a9ae0" opacity="0.7"/><rect x="1318" y="257" width="4" height="4" fill="#d8c030"/>
<rect x="836.3" y="51" width="3.6" height="8" fill="#fff"/>
<rect x="1307" y="306" width="4" height="4" fill="#fff"/>
<rect x="1272" y="331" width="4" height="4" fill="#fff"/>
<rect x="1380" y="365" width="4" height="4" fill="#fff"/>
<rect x="423.1" y="126.1" width="3.6" height="11.7" fill="#fff"/>
<rect x="426.7" y="137.8" width="7.2" height="3.9" fill="#fff"/>
<rect x="442" y="133.9" width="3.9" height="3.9" fill="#fff"/>
<rect x="434.5" y="148.9" width="11.4" height="3.9" fill="#fff"/>
<rect x="450" y="169" width="4" height="4" fill="#fff"/>
<rect x="460.5" y="189" width="4" height="4" fill="#fff"/>
<rect x="431" y="222" width="6" height="3" fill="#fff"/>
<rect x="434" y="222" width="3" height="6" fill="#fff"/>
<rect x="585" y="177" width="22" height="3" fill="#fff"/>
<rect x="604" y="155" width="6" height="3" fill="#fff"/>
<polygon points="93.2,118.5 93.9,121.4 97.0,126.8 97.8,133.0 100.1,142.4 100.9,152.5 105.6,158.0 109.5,164.2 110.2,170.4 109.5,179.8 113.4,186.0 114.9,191.4 121.2,195.3 128.9,198.5 132.1,200.0 136.7,204.7 141.4,208.6 147.6,210.9 151.5,214.0 152.3,220.3 157.0,224.9 160.1,231.2 163.2,239.0 166.0,244.8 169.5,241.2 182.0,250.1 183.7,260.8 189.1,267.9 196.2,272.4 201.5,276.8 208.7,287.5 215.8,300.0 217.6,310.6 218.4,317.8 221.1,328.4 223.8,339.1 225.6,348.0 222.9,353.3 221.1,362.2 217.6,371.5 92.0,371.5 92.0,118.5" fill="#cdcdcd" stroke="#000" stroke-width="1.3" stroke-linejoin="round"/>
<polygon points="144.5,51.4 165.3,54.6 169.4,61.1 178.2,59.5 180.6,53.0 175.0,51.4" fill="#cdcdcd" stroke="#000" stroke-width="1.7" stroke-linejoin="round"/>
<polygon points="341.2,53.0 350.1,54.3 357.8,62.3 348.5,61.1" fill="#cdcdcd" stroke="#000" stroke-width="1.7" stroke-linejoin="round"/>
<polygon points="425.3,124.2 429.5,132.2 432.2,128.4 434.2,136.1 426.7,138.6 426.1,128.4" fill="#cdcdcd" stroke="#000" stroke-width="1.7" stroke-linejoin="round"/>
<polygon points="434.2,142.8 443.4,150.9 437.3,152.3" fill="#cdcdcd" stroke="#000" stroke-width="1.7" stroke-linejoin="round"/>
<polygon points="386.8,211.3 402.4,219.1 411.3,231.3 421.3,235.8 431.3,244.7 423.5,244.7 413.5,240.2 402.4,233.5 393.5,222.4 387.9,213.5" fill="#cdcdcd" stroke="#000" stroke-width="1.7" stroke-linejoin="round"/>
<polygon points="587.8,171.2 593.4,166.8 604.5,167.9 607.8,173.5 606.7,176.8 597.8,177.9 588.9,175.7" fill="#cdcdcd" stroke="#000" stroke-width="1.7" stroke-linejoin="round"/>
<polygon points="606.7,152.3 624.5,146.8 623.4,151.2 626.7,154.5 608.9,156.8" fill="#cdcdcd" stroke="#000" stroke-width="1.7" stroke-linejoin="round"/>
<polygon points="735.8,103.5 746.5,104.4 750.0,107.9 757.1,110.6 744.7,109.7 739.3,108.0" fill="#cdcdcd" stroke="#000" stroke-width="1.7" stroke-linejoin="round"/>
</g>
<rect x="93.2" y="51.0" width="1299.0" height="319.5" fill="none" stroke="#000" stroke-width="2"/>
<line x1="93.2" y1="113.2" x2="105.2" y2="113.2" stroke="#000" stroke-width="2"/>
<line x1="1392.2" y1="113.2" x2="1380.2" y2="113.2" stroke="#000" stroke-width="2"/>
<line x1="93.2" y1="174.0" x2="105.2" y2="174.0" stroke="#000" stroke-width="2"/>
<line x1="1392.2" y1="174.0" x2="1380.2" y2="174.0" stroke="#000" stroke-width="2"/>
<line x1="93.2" y1="237.8" x2="105.2" y2="237.8" stroke="#000" stroke-width="2"/>
<line x1="1392.2" y1="237.8" x2="1380.2" y2="237.8" stroke="#000" stroke-width="2"/>
<line x1="93.2" y1="303.7" x2="105.2" y2="303.7" stroke="#000" stroke-width="2"/>
<line x1="1392.2" y1="303.7" x2="1380.2" y2="303.7" stroke="#000" stroke-width="2"/>
<line x1="245.7" y1="51.0" x2="245.7" y2="63.0" stroke="#000" stroke-width="2"/>
<line x1="245.7" y1="370.5" x2="245.7" y2="358.5" stroke="#000" stroke-width="2"/>
<line x1="398.6" y1="51.0" x2="398.6" y2="63.0" stroke="#000" stroke-width="2"/>
<line x1="398.6" y1="370.5" x2="398.6" y2="358.5" stroke="#000" stroke-width="2"/>
<line x1="551.8" y1="51.0" x2="551.8" y2="63.0" stroke="#000" stroke-width="2"/>
<line x1="551.8" y1="370.5" x2="551.8" y2="358.5" stroke="#000" stroke-width="2"/>
<line x1="704.8" y1="51.0" x2="704.8" y2="63.0" stroke="#000" stroke-width="2"/>
<line x1="704.8" y1="370.5" x2="704.8" y2="358.5" stroke="#000" stroke-width="2"/>
<line x1="857.8" y1="51.0" x2="857.8" y2="63.0" stroke="#000" stroke-width="2"/>
<line x1="857.8" y1="370.5" x2="857.8" y2="358.5" stroke="#000" stroke-width="2"/>
<line x1="1010.8" y1="51.0" x2="1010.8" y2="63.0" stroke="#000" stroke-width="2"/>
<line x1="1010.8" y1="370.5" x2="1010.8" y2="358.5" stroke="#000" stroke-width="2"/>
<line x1="1163.8" y1="51.0" x2="1163.8" y2="63.0" stroke="#000" stroke-width="2"/>
<line x1="1163.8" y1="370.5" x2="1163.8" y2="358.5" stroke="#000" stroke-width="2"/>
<line x1="1316.8" y1="51.0" x2="1316.8" y2="63.0" stroke="#000" stroke-width="2"/>
<line x1="1316.8" y1="370.5" x2="1316.8" y2="358.5" stroke="#000" stroke-width="2"/>
<circle cx="320.5" cy="174.2" r="9.4" fill="#71cd64" stroke="#000" stroke-width="1.2"/>
<circle cx="354.0" cy="184.7" r="9.4" fill="#3eca8f" stroke="#000" stroke-width="1.2"/>
<circle cx="391.2" cy="193.9" r="9.4" fill="#33c69d" stroke="#000" stroke-width="1.2"/>
<circle cx="398.4" cy="199.0" r="9.4" fill="#41ca8c" stroke="#000" stroke-width="1.2"/>
<circle cx="444.2" cy="206.4" r="9.4" fill="#60cd73" stroke="#000" stroke-width="1.2"/>
<circle cx="474.2" cy="238.7" r="9.4" fill="#58cc79" stroke="#000" stroke-width="1.2"/>
<circle cx="506.5" cy="228.6" r="9.4" fill="#5ccc76" stroke="#000" stroke-width="1.2"/>
<circle cx="539.7" cy="219.1" r="9.4" fill="#2cc4a7" stroke="#000" stroke-width="1.2"/>
<circle cx="571.9" cy="218.0" r="9.4" fill="#09bdbd" stroke="#000" stroke-width="1.2"/>
<circle cx="606.4" cy="222.4" r="9.4" fill="#37c898" stroke="#000" stroke-width="1.2"/>
<circle cx="650.1" cy="213.5" r="9.4" fill="#01b8ca" stroke="#000" stroke-width="1.2"/>
<circle cx="693.5" cy="206.8" r="9.4" fill="#37c898" stroke="#000" stroke-width="1.2"/>
<circle cx="737.5" cy="199.0" r="9.4" fill="#11b1d6" stroke="#000" stroke-width="1.2"/>
<circle cx="768.7" cy="177.9" r="9.4" fill="#b9c431" stroke="#000" stroke-width="1.2"/>
<circle cx="794.4" cy="178.6" r="9.4" fill="#2699ea" stroke="#000" stroke-width="1.2"/>
<circle cx="844.5" cy="182.6" r="9.4" fill="#3f6eff" stroke="#000" stroke-width="1.2"/>
<circle cx="887.2" cy="181.2" r="9.4" fill="#2f81fa" stroke="#000" stroke-width="1.2"/>
<circle cx="933.5" cy="179.0" r="9.4" fill="#2c8ff0" stroke="#000" stroke-width="1.2"/>
<polyline points="782.3,113.3 314.7,113.3 314.7,271 782.3,271 782.3,113.3" fill="none" stroke="#000" stroke-width="3.2"/>
<line x1="782.3" y1="113.3" x2="1002.5" y2="113.3" stroke="#000" stroke-width="3.2" stroke-dasharray="13.1 12.7"/>
<line x1="782.3" y1="271" x2="1002.5" y2="271" stroke="#000" stroke-width="3.2" stroke-dasharray="13.1 12.7"/>
<rect x="1008.4" y="267.8" width="3.6" height="4.2" fill="#000"/>
<line x1="1010.2" y1="113.4" x2="1010.2" y2="260" stroke="#000" stroke-width="3.4" stroke-dasharray="12.3 13.4"/>
<rect x="597.2" y="159.7" width="106.8" height="78.8" fill="none" stroke="#ff0000" stroke-width="3.3" stroke-linejoin="round"/>
<text x="322.0" y="160.7" font-size="24.5" font-weight="bold" text-anchor="middle">1</text>
<text x="351.9" y="169.1" font-size="24.5" font-weight="bold" text-anchor="middle">2</text>
<text x="385.7" y="185.6" font-size="24.5" font-weight="bold" text-anchor="middle">A</text>
<text x="405.7" y="188.9" font-size="24.5" font-weight="bold" text-anchor="middle">3</text>
<text x="444.2" y="196.3" font-size="24.5" font-weight="bold" text-anchor="middle">4</text>
<text x="474.2" y="225.6" font-size="24.5" font-weight="bold" text-anchor="middle">5</text>
<text x="504.7" y="217.4" font-size="24.5" font-weight="bold" text-anchor="middle">6</text>
<text x="538.8" y="209.0" font-size="24.5" font-weight="bold" text-anchor="middle">7</text>
<text x="573.3" y="209.0" font-size="24.5" font-weight="bold" text-anchor="middle">8</text>
<text x="608.6" y="213.0" font-size="24.5" font-weight="bold" text-anchor="middle">9</text>
<text x="657.4" y="201.2" font-size="24.5" font-weight="bold" text-anchor="middle">10</text>
<text x="691.3" y="195.6" font-size="24.5" font-weight="bold" text-anchor="middle">11</text>
<text x="734.0" y="191.2" font-size="24.5" font-weight="bold" text-anchor="middle">12</text>
<text x="763.6" y="168.9" font-size="24.5" font-weight="bold" text-anchor="middle">B</text>
<text x="795.8" y="166.7" font-size="24.5" font-weight="bold" text-anchor="middle">13</text>
<text x="842.6" y="169.4" font-size="24.5" font-weight="bold" text-anchor="middle">C</text>
<text x="887.1" y="168.9" font-size="24.5" font-weight="bold" text-anchor="middle">14</text>
<text x="933.5" y="168.9" font-size="24.5" font-weight="bold" text-anchor="middle">15</text>
<text x="406.8" y="106.5" font-size="25" font-weight="bold" font-style="italic">Melanesian archipelago</text>
<text x="804.5" y="106.3" font-size="25" font-weight="bold" font-style="italic">South Pacific Gyre</text>
<text x="337.8" y="265.3" font-size="25.2" font-style="italic">New Caledonia</text>
<text x="599" y="137.7" font-size="24" font-style="italic">Fidjii</text>
<text x="108.5" y="312.6" font-size="25" font-style="italic">Australia</text>
<text x="82.5" y="62.3" font-size="31.5" text-anchor="end">10°S</text>
<text x="82.5" y="124.5" font-size="31.5" text-anchor="end">14°S</text>
<text x="82.5" y="185.3" font-size="31.5" text-anchor="end">18°S</text>
<text x="82.5" y="249.1" font-size="31.5" text-anchor="end">22°S</text>
<text x="82.5" y="315.0" font-size="31.5" text-anchor="end">26°S</text>
<text x="82.5" y="381.8" font-size="31.5" text-anchor="end">30°S</text>
<text x="245.7" y="400.5" font-size="31.5" text-anchor="middle">155°E</text>
<text x="398.6" y="400.5" font-size="31.5" text-anchor="middle">165°E</text>
<text x="551.8" y="400.5" font-size="31.5" text-anchor="middle">175°E</text>
<text x="704.8" y="400.5" font-size="31.5" text-anchor="middle">175°W</text>
<text x="857.8" y="400.5" font-size="31.5" text-anchor="middle">165°W</text>
<text x="1010.8" y="400.5" font-size="31.5" text-anchor="middle">155°W</text>
<text x="1163.8" y="400.5" font-size="31.5" text-anchor="middle">145°W</text>
<text x="1316.8" y="400.5" font-size="31.5" text-anchor="middle">135°W</text>
<text x="93" y="35" font-size="40">(a)</text>
<defs><linearGradient id="par" x1="0" y1="1" x2="0" y2="0"><stop offset="0.0000" stop-color="#3e26a8"/><stop offset="0.0312" stop-color="#422ebf"/><stop offset="0.0625" stop-color="#4536d5"/><stop offset="0.0938" stop-color="#4741e5"/><stop offset="0.1250" stop-color="#484cef"/><stop offset="0.1562" stop-color="#4757f7"/><stop offset="0.1875" stop-color="#4562fc"/><stop offset="0.2188" stop-color="#3f6eff"/><stop offset="0.2500" stop-color="#347afd"/><stop offset="0.2812" stop-color="#2e85f8"/><stop offset="0.3125" stop-color="#2c90f0"/><stop offset="0.3438" stop-color="#269ae9"/><stop offset="0.3750" stop-color="#21a3e3"/><stop offset="0.4062" stop-color="#1aacdd"/><stop offset="0.4375" stop-color="#0cb3d3"/><stop offset="0.4688" stop-color="#00b9c6"/><stop offset="0.5000" stop-color="#12beb9"/><stop offset="0.5312" stop-color="#28c2ab"/><stop offset="0.5625" stop-color="#34c79c"/><stop offset="0.5938" stop-color="#43cb8a"/><stop offset="0.6250" stop-color="#5ccc76"/><stop offset="0.6562" stop-color="#77cc60"/><stop offset="0.6875" stop-color="#94ca4a"/><stop offset="0.7188" stop-color="#afc636"/><stop offset="0.7500" stop-color="#c8c129"/><stop offset="0.7812" stop-color="#debc29"/><stop offset="0.8125" stop-color="#f1ba37"/><stop offset="0.8438" stop-color="#febe3c"/><stop offset="0.8750" stop-color="#feca33"/><stop offset="0.9062" stop-color="#f9d62d"/><stop offset="0.9375" stop-color="#f5e327"/><stop offset="0.9688" stop-color="#f6ef20"/><stop offset="1.0000" stop-color="#f9fb15"/></linearGradient></defs>
<rect x="1410" y="51" width="36.2" height="319.5" fill="url(#par)" stroke="#262626" stroke-width="1.7"/>
<line x1="1446" y1="170.6" x2="1450" y2="170.6" stroke="#262626" stroke-width="1.5"/>
<line x1="1446" y1="370" x2="1450" y2="370" stroke="#262626" stroke-width="1.5"/>
<text x="1458.7" y="182.3" font-size="32">10</text>
<text x="1458.7" y="381.6" font-size="32">1</text>
<text x="1209.5" y="37.6" font-size="36">PON (mg m<tspan font-size="28.6" dy="-16.6">-3</tspan><tspan dy="16.6">)</tspan></text>
<g id="chart">
<polygon points="91.8,633.4 166.3,659.6 249.5,642.4 264.1,658.7 365.4,657.9 432.0,650.3 503.5,634.8 576.0,641.3 647.7,677.8 723.0,652.5 820.4,697.5 916.7,654.7 1013.7,662.5 1082.5,585.0 1139.4,774.0 1250.2,783.0 1343.5,781.2 1445.3,768.7 1445.3,777.6 1343.5,797.3 1250.2,799.0 1139.4,794.4 1082.5,684.8 1013.7,751.0 916.7,708.7 820.4,724.0 723.0,706.5 647.7,724.0 576.0,668.6 503.5,681.2 432.0,673.5 365.4,698.0 264.1,688.2 249.5,678.4 166.3,738.8 91.8,684.0" fill="#cce3f1"/>
<polyline points="91.8,638.5 165.7,672.2 248.7,700.3 263.3,688.2 365.3,646.3 431.6,655.9 503.5,653.7 575.5,695.8 647.2,712.7 722.2,675 820,726.5 916.7,693.2 1012.9,746.1 1082.5,621.5 1138.7,761.5 1249.5,776.9 1344.2,774.3 1445.3,769.4" fill="none" stroke="#00ff00" stroke-width="3.9" stroke-linejoin="round"/>
<line x1="248.7" y1="670" x2="248.7" y2="731.8" stroke="#00ff00" stroke-width="2.8"/>
<line x1="243.2" y1="670" x2="254.2" y2="670" stroke="#00ff00" stroke-width="2.8"/>
<line x1="243.2" y1="731.8" x2="254.2" y2="731.8" stroke="#00ff00" stroke-width="2.8"/>
<line x1="263.3" y1="679.8" x2="263.3" y2="698" stroke="#00ff00" stroke-width="2.8"/>
<line x1="257.8" y1="679.8" x2="268.8" y2="679.8" stroke="#00ff00" stroke-width="2.8"/>
<line x1="257.8" y1="698" x2="268.8" y2="698" stroke="#00ff00" stroke-width="2.8"/>
<line x1="365.3" y1="641.1" x2="365.3" y2="651.4" stroke="#00ff00" stroke-width="2.8"/>
<line x1="359.8" y1="641.1" x2="370.8" y2="641.1" stroke="#00ff00" stroke-width="2.8"/>
<line x1="359.8" y1="651.4" x2="370.8" y2="651.4" stroke="#00ff00" stroke-width="2.8"/>
<line x1="431.6" y1="641.3" x2="431.6" y2="672.5" stroke="#00ff00" stroke-width="2.8"/>
<line x1="426.1" y1="641.3" x2="437.1" y2="641.3" stroke="#00ff00" stroke-width="2.8"/>
<line x1="426.1" y1="672.5" x2="437.1" y2="672.5" stroke="#00ff00" stroke-width="2.8"/>
<line x1="722.2" y1="632" x2="722.2" y2="718.3" stroke="#00ff00" stroke-width="2.8"/>
<line x1="716.7" y1="632" x2="727.7" y2="632" stroke="#00ff00" stroke-width="2.8"/>
<line x1="716.7" y1="718.3" x2="727.7" y2="718.3" stroke="#00ff00" stroke-width="2.8"/>
<line x1="916.7" y1="686" x2="916.7" y2="705.3" stroke="#00ff00" stroke-width="2.8"/>
<line x1="911.2" y1="686" x2="922.2" y2="686" stroke="#00ff00" stroke-width="2.8"/>
<line x1="911.2" y1="705.3" x2="922.2" y2="705.3" stroke="#00ff00" stroke-width="2.8"/>
<line x1="1082.5" y1="590.6" x2="1082.5" y2="653.9" stroke="#00ff00" stroke-width="2.8"/>
<line x1="1077.0" y1="590.6" x2="1088.0" y2="590.6" stroke="#00ff00" stroke-width="2.8"/>
<line x1="1077.0" y1="653.9" x2="1088.0" y2="653.9" stroke="#00ff00" stroke-width="2.8"/>
<line x1="1138.7" y1="749" x2="1138.7" y2="770" stroke="#00ff00" stroke-width="2.8"/>
<line x1="1133.2" y1="749" x2="1144.2" y2="749" stroke="#00ff00" stroke-width="2.8"/>
<line x1="1133.2" y1="770" x2="1144.2" y2="770" stroke="#00ff00" stroke-width="2.8"/>
<line x1="1344.2" y1="769.2" x2="1344.2" y2="779.4" stroke="#00ff00" stroke-width="2.8"/>
<line x1="1338.7" y1="769.2" x2="1349.7" y2="769.2" stroke="#00ff00" stroke-width="2.8"/>
<line x1="1338.7" y1="779.4" x2="1349.7" y2="779.4" stroke="#00ff00" stroke-width="2.8"/>
<circle cx="91.8" cy="638.5" r="6.4" fill="#00ff00"/>
<circle cx="165.7" cy="672.2" r="6.4" fill="#00ff00"/>
<circle cx="248.7" cy="700.3" r="6.4" fill="#00ff00"/>
<circle cx="263.3" cy="688.2" r="6.4" fill="#00ff00"/>
<circle cx="365.3" cy="646.3" r="6.4" fill="#00ff00"/>
<circle cx="431.6" cy="655.9" r="6.4" fill="#00ff00"/>
<circle cx="503.5" cy="653.7" r="6.4" fill="#00ff00"/>
<circle cx="575.5" cy="695.8" r="6.4" fill="#00ff00"/>
<circle cx="647.2" cy="712.7" r="6.4" fill="#00ff00"/>
<circle cx="722.2" cy="675" r="6.4" fill="#00ff00"/>
<circle cx="820" cy="726.5" r="6.4" fill="#00ff00"/>
<circle cx="916.7" cy="693.2" r="6.4" fill="#00ff00"/>
<circle cx="1012.9" cy="746.1" r="6.4" fill="#00ff00"/>
<circle cx="1082.5" cy="621.5" r="6.4" fill="#00ff00"/>
<circle cx="1138.7" cy="761.5" r="6.4" fill="#00ff00"/>
<circle cx="1249.5" cy="776.9" r="6.4" fill="#00ff00"/>
<circle cx="1344.2" cy="774.3" r="6.4" fill="#00ff00"/>
<circle cx="1445.3" cy="769.4" r="6.4" fill="#00ff00"/>
<polyline points="91.8,657.3 166.3,700.3 249.5,659.3 264.1,673.3 365.4,678.4 432,662 503.5,657.9 576,655.1 647.7,700.9 723,679 820.4,713 916.7,680.6 1013.7,708.3 1082.5,635 1139.4,782.2 1250.2,793 1343.5,790.8 1445.3,773.3" fill="none" stroke="#0072bd" stroke-width="4" stroke-linejoin="round"/>
<rect x="85.7" y="651.1999999999999" width="12.2" height="12.2" fill="#0072bd"/>
<rect x="160.20000000000002" y="694.1999999999999" width="12.2" height="12.2" fill="#0072bd"/>
<rect x="243.4" y="653.1999999999999" width="12.2" height="12.2" fill="#0072bd"/>
<rect x="258.0" y="667.1999999999999" width="12.2" height="12.2" fill="#0072bd"/>
<rect x="359.29999999999995" y="672.3" width="12.2" height="12.2" fill="#0072bd"/>
<rect x="425.9" y="655.9" width="12.2" height="12.2" fill="#0072bd"/>
<rect x="497.4" y="651.8" width="12.2" height="12.2" fill="#0072bd"/>
<rect x="569.9" y="649.0" width="12.2" height="12.2" fill="#0072bd"/>
<rect x="641.6" y="694.8" width="12.2" height="12.2" fill="#0072bd"/>
<rect x="716.9" y="672.9" width="12.2" height="12.2" fill="#0072bd"/>
<rect x="814.3" y="706.9" width="12.2" height="12.2" fill="#0072bd"/>
<rect x="910.6" y="674.5" width="12.2" height="12.2" fill="#0072bd"/>
<rect x="1007.6" y="702.1999999999999" width="12.2" height="12.2" fill="#0072bd"/>
<rect x="1076.4" y="628.9" width="12.2" height="12.2" fill="#0072bd"/>
<rect x="1133.3000000000002" y="776.1" width="12.2" height="12.2" fill="#0072bd"/>
<rect x="1244.1000000000001" y="786.9" width="12.2" height="12.2" fill="#0072bd"/>
<rect x="1337.4" y="784.6999999999999" width="12.2" height="12.2" fill="#0072bd"/>
<rect x="1439.2" y="767.1999999999999" width="12.2" height="12.2" fill="#0072bd"/>
<rect x="91.6" y="494.0" width="1354.6000000000001" height="318.6" fill="none" stroke="#262626" stroke-width="1.5"/>
<line x1="91.6" y1="812.6" x2="105.6" y2="812.6" stroke="#262626" stroke-width="1.5"/>
<line x1="1446.2" y1="812.6" x2="1432.2" y2="812.6" stroke="#262626" stroke-width="1.5"/>
<text x="81" y="824.6" font-size="33.5" text-anchor="end" fill="#000">0</text>
<line x1="91.6" y1="798.1" x2="100.6" y2="798.1" stroke="#262626" stroke-width="1.5"/>
<line x1="1446.2" y1="798.1" x2="1437.2" y2="798.1" stroke="#262626" stroke-width="1.5"/>
<line x1="91.6" y1="783.6" x2="100.6" y2="783.6" stroke="#262626" stroke-width="1.5"/>
<line x1="1446.2" y1="783.6" x2="1437.2" y2="783.6" stroke="#262626" stroke-width="1.5"/>
<line x1="91.6" y1="769.1" x2="100.6" y2="769.1" stroke="#262626" stroke-width="1.5"/>
<line x1="1446.2" y1="769.1" x2="1437.2" y2="769.1" stroke="#262626" stroke-width="1.5"/>
<line x1="91.6" y1="754.6" x2="100.6" y2="754.6" stroke="#262626" stroke-width="1.5"/>
<line x1="1446.2" y1="754.6" x2="1437.2" y2="754.6" stroke="#262626" stroke-width="1.5"/>
<line x1="91.6" y1="740.1" x2="105.6" y2="740.1" stroke="#262626" stroke-width="1.5"/>
<line x1="1446.2" y1="740.1" x2="1432.2" y2="740.1" stroke="#262626" stroke-width="1.5"/>
<text x="81" y="752.1" font-size="33.5" text-anchor="end" fill="#000">5</text>
<line x1="91.6" y1="725.6" x2="100.6" y2="725.6" stroke="#262626" stroke-width="1.5"/>
<line x1="1446.2" y1="725.6" x2="1437.2" y2="725.6" stroke="#262626" stroke-width="1.5"/>
<line x1="91.6" y1="711.1" x2="100.6" y2="711.1" stroke="#262626" stroke-width="1.5"/>
<line x1="1446.2" y1="711.1" x2="1437.2" y2="711.1" stroke="#262626" stroke-width="1.5"/>
<line x1="91.6" y1="696.6" x2="100.6" y2="696.6" stroke="#262626" stroke-width="1.5"/>
<line x1="1446.2" y1="696.6" x2="1437.2" y2="696.6" stroke="#262626" stroke-width="1.5"/>
<line x1="91.6" y1="682.1" x2="100.6" y2="682.1" stroke="#262626" stroke-width="1.5"/>
<line x1="1446.2" y1="682.1" x2="1437.2" y2="682.1" stroke="#262626" stroke-width="1.5"/>
<line x1="91.6" y1="667.6" x2="105.6" y2="667.6" stroke="#262626" stroke-width="1.5"/>
<line x1="1446.2" y1="667.6" x2="1432.2" y2="667.6" stroke="#262626" stroke-width="1.5"/>
<text x="81" y="679.6" font-size="33.5" text-anchor="end" fill="#000">10</text>
<line x1="91.6" y1="653.1" x2="100.6" y2="653.1" stroke="#262626" stroke-width="1.5"/>
<line x1="1446.2" y1="653.1" x2="1437.2" y2="653.1" stroke="#262626" stroke-width="1.5"/>
<line x1="91.6" y1="638.6" x2="100.6" y2="638.6" stroke="#262626" stroke-width="1.5"/>
<line x1="1446.2" y1="638.6" x2="1437.2" y2="638.6" stroke="#262626" stroke-width="1.5"/>
<line x1="91.6" y1="624.1" x2="100.6" y2="624.1" stroke="#262626" stroke-width="1.5"/>
<line x1="1446.2" y1="624.1" x2="1437.2" y2="624.1" stroke="#262626" stroke-width="1.5"/>
<line x1="91.6" y1="609.6" x2="100.6" y2="609.6" stroke="#262626" stroke-width="1.5"/>
<line x1="1446.2" y1="609.6" x2="1437.2" y2="609.6" stroke="#262626" stroke-width="1.5"/>
<line x1="91.6" y1="595.1" x2="105.6" y2="595.1" stroke="#262626" stroke-width="1.5"/>
<line x1="1446.2" y1="595.1" x2="1432.2" y2="595.1" stroke="#262626" stroke-width="1.5"/>
<text x="81" y="607.1" font-size="33.5" text-anchor="end" fill="#000">15</text>
<line x1="91.6" y1="580.6" x2="100.6" y2="580.6" stroke="#262626" stroke-width="1.5"/>
<line x1="1446.2" y1="580.6" x2="1437.2" y2="580.6" stroke="#262626" stroke-width="1.5"/>
<line x1="91.6" y1="566.1" x2="100.6" y2="566.1" stroke="#262626" stroke-width="1.5"/>
<line x1="1446.2" y1="566.1" x2="1437.2" y2="566.1" stroke="#262626" stroke-width="1.5"/>
<line x1="91.6" y1="551.6" x2="100.6" y2="551.6" stroke="#262626" stroke-width="1.5"/>
<line x1="1446.2" y1="551.6" x2="1437.2" y2="551.6" stroke="#262626" stroke-width="1.5"/>
<line x1="91.6" y1="537.1" x2="100.6" y2="537.1" stroke="#262626" stroke-width="1.5"/>
<line x1="1446.2" y1="537.1" x2="1437.2" y2="537.1" stroke="#262626" stroke-width="1.5"/>
<line x1="91.6" y1="522.6" x2="105.6" y2="522.6" stroke="#262626" stroke-width="1.5"/>
<line x1="1446.2" y1="522.6" x2="1432.2" y2="522.6" stroke="#262626" stroke-width="1.5"/>
<text x="81" y="534.6" font-size="33.5" text-anchor="end" fill="#000">20</text>
<line x1="91.6" y1="508.1" x2="100.6" y2="508.1" stroke="#262626" stroke-width="1.5"/>
<line x1="1446.2" y1="508.1" x2="1437.2" y2="508.1" stroke="#262626" stroke-width="1.5"/>
<line x1="91.6" y1="493.6" x2="100.6" y2="493.6" stroke="#262626" stroke-width="1.5"/>
<line x1="1446.2" y1="493.6" x2="1437.2" y2="493.6" stroke="#262626" stroke-width="1.5"/>
<line x1="263.6" y1="812.6" x2="263.6" y2="799.1" stroke="#262626" stroke-width="1.5"/>
<line x1="263.6" y1="494.0" x2="263.6" y2="507.5" stroke="#262626" stroke-width="1.5"/>
<text x="263.6" y="854" font-size="33.5" text-anchor="middle">165°E</text>
<line x1="601.6" y1="812.6" x2="601.6" y2="799.1" stroke="#262626" stroke-width="1.5"/>
<line x1="601.6" y1="494.0" x2="601.6" y2="507.5" stroke="#262626" stroke-width="1.5"/>
<text x="601.6" y="854" font-size="33.5" text-anchor="middle">175°E</text>
<line x1="939.6" y1="812.6" x2="939.6" y2="799.1" stroke="#262626" stroke-width="1.5"/>
<line x1="939.6" y1="494.0" x2="939.6" y2="507.5" stroke="#262626" stroke-width="1.5"/>
<text x="939.6" y="854" font-size="33.5" text-anchor="middle">175°W</text>
<line x1="1277.2" y1="812.6" x2="1277.2" y2="799.1" stroke="#262626" stroke-width="1.5"/>
<line x1="1277.2" y1="494.0" x2="1277.2" y2="507.5" stroke="#262626" stroke-width="1.5"/>
<text x="1277.2" y="854" font-size="33.5" text-anchor="middle">165°W</text>
<text x="769" y="892.2" font-size="32.5" text-anchor="middle">Longitude</text>
<text transform="translate(34.2,653) rotate(-90)" font-size="32.6" text-anchor="middle">PON (mg m<tspan font-size="26.5" dy="-14.8">-3</tspan><tspan dy="14.8">)</tspan></text>
<text x="134" y="477.9" font-size="39.5">(b)</text>
<text x="85.00" y="627.74" font-size="30" text-anchor="middle">1</text>
<text x="169.70" y="648.74" font-size="30" text-anchor="middle">2</text>
<text x="239.90" y="634.14" font-size="30" text-anchor="middle">A</text>
<text x="272.00" y="648.94" font-size="30" text-anchor="middle">3</text>
<text x="372.60" y="634.74" font-size="30" text-anchor="middle">4</text>
<text x="423.50" y="634.74" font-size="30" text-anchor="middle">5</text>
<text x="507.80" y="634.74" font-size="30" text-anchor="middle">6</text>
<text x="575.30" y="634.74" font-size="30" text-anchor="middle">7</text>
<text x="643.00" y="663.54" font-size="30" text-anchor="middle">8</text>
<text x="709.40" y="648.74" font-size="30" text-anchor="middle">9</text>
<text x="820.20" y="677.74" font-size="30" text-anchor="middle">10</text>
<text x="920.20" y="648.34" font-size="30" text-anchor="middle">11</text>
<text x="1022.00" y="780.34" font-size="30" text-anchor="middle">12</text>
<text x="1083.50" y="576.74" font-size="30" text-anchor="middle">B</text>
<text x="1158.50" y="750.54" font-size="30" text-anchor="middle">13</text>
<text x="1253.60" y="764.14" font-size="30" text-anchor="middle">C</text>
<text x="1325.70" y="764.74" font-size="30" text-anchor="middle">14</text>
<text x="1426.30" y="764.74" font-size="30" text-anchor="middle">15</text>
<circle cx="127.8" cy="522.7" r="7" fill="#00ff00"/>
<text x="144" y="532.8" font-size="29" fill="#00ff00">In situ PON</text>
<rect x="122.1" y="553.3" width="13" height="13" fill="#0072bd"/>
<text x="144" y="569.5" font-size="29" fill="#0072bd">Algorithm-derived PON</text>
</g>
<line x1="314.7" y1="271" x2="91.6" y2="494" stroke="#000" stroke-width="1.2"/>
<line x1="1010" y1="271" x2="1446" y2="494" stroke="#000" stroke-width="1.2"/>
</svg></body></html>
